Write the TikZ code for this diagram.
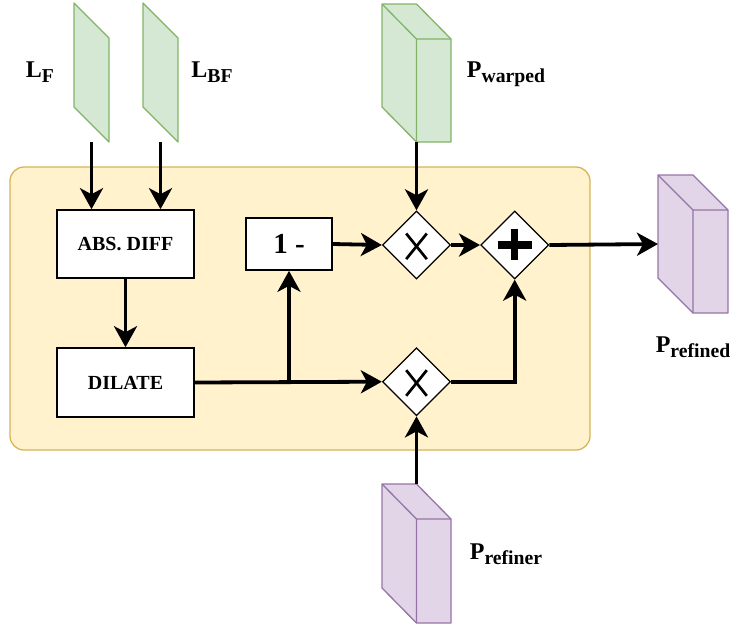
\documentclass[tikz,border=0pt]{standalone}
\usepackage{fontspec}
\setmainfont{Liberation Serif}
\usetikzlibrary{arrows.meta,calc,shapes.geometric}

\definecolor{panelfill}{HTML}{FFF2CC}
\definecolor{panelline}{HTML}{D6B656}
\definecolor{greenfill}{HTML}{D5E8D4}
\definecolor{greenline}{HTML}{82B366}
\definecolor{purplefill}{HTML}{E1D5E7}
\definecolor{purpleline}{HTML}{9673A6}

% label with a lowered, smaller subscript
\newcommand{\sublabel}[2]{#1\raisebox{-5pt}{\fontsize{19.7}{20}\selectfont #2}}

% cuboid drawn inside the bounding box of a placeholder node
\newcommand{\cubeshape}[3]{%
  \draw[line width=1.3pt, draw=#3, fill=#2, line join=round]
    (#1.north west) -- (#1.north) -- ($(#1.north east)+(0,35)$) -- (#1.south east)
    -- (#1.south) -- ($(#1.south west)+(0,-35)$) -- cycle;
  \draw[line width=1.3pt, draw=#3, line join=round]
    (#1.north west) -- ($(#1.north)+(0,35)$) -- ($(#1.north east)+(0,35)$)
    ($(#1.north)+(0,35)$) -- (#1.south);}

% slanted slab (parallelogram) inside a placeholder node
\newcommand{\slabshape}[3]{%
  \draw[line width=1.3pt, draw=#3, fill=#2, line join=round]
    (#1.north west) -- ($(#1.north east)+(0,35)$) -- (#1.south east)
    -- ($(#1.south west)+(0,-35)$) -- cycle;}

\begin{document}
\begin{tikzpicture}[x=1pt,y=-1pt,
  holder/.style={draw=none, inner sep=0, outer sep=0, rectangle},
  opbox/.style={draw=black, line width=1.6pt, fill=white, inner sep=0,
    font=\bfseries\fontsize{20}{22}\selectfont},
  gate/.style={diamond, draw=black, line width=1.3pt, fill=white, inner sep=0,
    minimum width=68pt, minimum height=68pt},
  flow/.style={line width=3.8pt, -{Stealth[length=21pt 0,width=23pt 0,inset=6pt 0]}},
  tag/.style={anchor=base, inner sep=0, font=\bfseries\fontsize{24}{26}\selectfont}]

\useasboundingbox (0,0) rectangle (733,625);

% processing panel
\node[draw=panelline, fill=panelfill, line width=1.3pt, rounded corners=14pt,
  minimum width=580pt, minimum height=283pt, inner sep=0] (panel) at (300,308.5) {};

% operation boxes
\node[opbox, minimum width=137pt, minimum height=68pt] (abs) at (125.5,244) {ABS. DIFF};
\node[opbox, minimum width=137pt, minimum height=69pt] (dil) at (125.5,382.5) {DILATE};
\node[opbox, minimum width=86pt, minimum height=52pt,
  font=\bfseries\fontsize{29}{30}\selectfont] (one) at (289,244) {1 -};

% gates
\node[gate] (mul1) at (416.5,245) {};
\node[gate] (add) at (514.7,245) {};
\node[gate] (mul2) at (416.5,381.7) {};
\foreach \g in {mul1,mul2}{
  \draw[line width=2.7pt] ([shift={(-10.3,-11.5)}]\g.center) -- ([shift={(10.3,14.1)}]\g.center);
  \draw[line width=2.7pt] ([shift={(-10.3,14.1)}]\g.center) -- ([shift={(10.3,-11.5)}]\g.center);
}
\draw[line width=7.3pt] ([shift={(-17,0)}]add.center) -- ([shift={(17,0)}]add.center);
\draw[line width=7.3pt] ([shift={(0,-16.5)}]add.center) -- ([shift={(0,14.5)}]add.center);

% inputs and output
\node[holder, minimum width=35pt, minimum height=139pt] (lf) at (91.5,72.5) {};
\node[holder, minimum width=35pt, minimum height=139pt] (lbf) at (160.5,72.5) {};
\node[holder, minimum width=69pt, minimum height=138pt] (pw) at (416.5,73) {};
\node[holder, minimum width=70pt, minimum height=138pt] (pr) at (693,244) {};
\node[holder, minimum width=69pt, minimum height=139pt] (pf) at (416.5,553.5) {};
\slabshape{lf}{greenfill}{greenline}
\slabshape{lbf}{greenfill}{greenline}
\cubeshape{pw}{greenfill}{greenline}
\cubeshape{pr}{purplefill}{purpleline}
\cubeshape{pf}{purplefill}{purpleline}

% labels
\node[tag] (lfl) at (40,77) {\sublabel{L}{F}};
\node[tag] (lbfl) at (212,77) {\sublabel{L}{BF}};
\node[tag] (pwl) at (506,77) {\sublabel{P}{warped}};
\node[tag] (prl) at (693,352) {\sublabel{P}{refined}};
\node[tag] (pfl) at (506,559) {\sublabel{P}{refiner}};

% connectors
\draw[flow] (lf.south) -- (lf.south |- abs.north);
\draw[flow] (lbf.south) -- (lbf.south |- abs.north);
\draw[flow] (abs.south) -- (dil.north);
\coordinate (split) at (one.south |- dil.east);
\draw[flow] (dil.east) -- (mul2.west);
\draw[flow] (split) -- (one.south);
\draw[flow] (one.east) -- (mul1.west);
\draw[flow] (pw.south) -- (mul1.north);
\draw[flow] (mul1.east) -- (add.west);
\draw[flow] (add.east) -- (pr.west);
\draw[flow] (mul2.east) -| (add.south);
\draw[flow] (pf.north) -- (mul2.south);

\end{tikzpicture}
\end{document}
